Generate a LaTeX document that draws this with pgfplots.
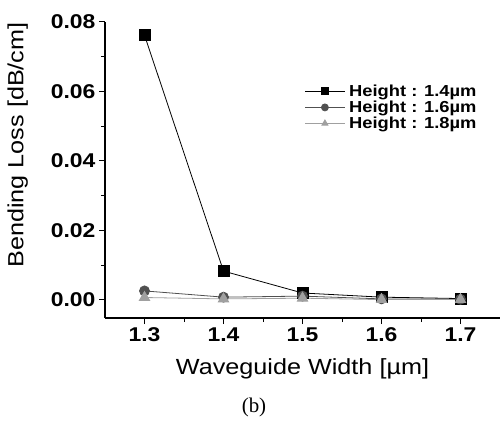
\documentclass[border=0pt]{standalone}
\usepackage{pgfplots}
\pgfplotsset{compat=1.18}
\usepackage{fontspec}
\setmainfont[FakeStretch=1.15]{Liberation Sans}
\newfontfamily\seriffont{Liberation Serif}
\definecolor{dgray}{HTML}{505050}
\definecolor{lgray}{HTML}{A0A0A0}
\begin{document}
\begin{tikzpicture}[x=1bp,y=1bp]
\path[use as bounding box] (0,0) rectangle (500,421);
\begin{axis}[
  at={(105bp,103bp)}, anchor=south west,
  scale only axis, width=395bp, height=296bp,
  xmin=1.25, xmax=1.75, ymin=-0.0052, ymax=0.08,
  axis lines*=left,
  axis line style={line width=1.2pt},
  xtick={1.3,1.4,1.5,1.6,1.7},
  minor xtick={1.35,1.45,1.55,1.65},
  ytick={0,0.02,0.04,0.06,0.08},
  minor ytick={0.01,0.03,0.05,0.07},
  tick align=outside,
  major tick length=6bp, minor tick length=4bp,
  every tick/.style={line width=1pt, black},
  /pgf/number format/assume math mode=true,
  yticklabel style={/pgf/number format/fixed,/pgf/number format/precision=2,/pgf/number format/fixed zerofill, font=\fontsize{20}{22}\selectfont\bfseries},
  xticklabel style={/pgf/number format/fixed,/pgf/number format/precision=1,/pgf/number format/fixed zerofill, font=\fontsize{20}{22}\selectfont\bfseries},
  scaled y ticks=false,
  xlabel={Waveguide Width [\textmu m]},
  ylabel={Bending Loss [dB/cm]},
  label style={font=\fontsize{22}{24}\selectfont},
  xlabel style={yshift=-10bp},
  ylabel style={yshift=16bp, xshift=25bp},
  legend style={draw=none, fill=none, at={(0.505,0.795)}, anchor=north west,
    font=\fontsize{16}{17}\selectfont\bfseries, row sep=-1bp,
    legend cell align=left, inner sep=0pt, nodes={inner xsep=4bp}},
  legend image code/.code={
    \draw[#1, mark=none] (0cm,0cm) -- (1.4cm,0cm);
    \draw[#1, only marks, mark size=3.5bp] plot coordinates {(0.7cm,0cm)};
  },
]
\addplot[black, line width=0.8pt, mark=square*, mark size=5.5bp, mark options={solid}] coordinates {
(1.3,0.0762) (1.4,0.0083) (1.5,0.0020) (1.6,0.0008) (1.7,0.0004)};
\addlegendentry{Height : 1.4\textmu m}
\addplot[dgray, line width=0.8pt, mark=*, mark size=5bp] coordinates {
(1.3,0.0026) (1.4,0.0008) (1.5,0.0011) (1.6,0.0003) (1.7,0.0002)};
\addlegendentry{Height : 1.6\textmu m}
\addplot[lgray, line width=0.8pt, mark=triangle*, mark size=6bp] coordinates {
(1.3,0.0007) (1.4,0.0003) (1.5,0.0005) (1.6,0.0001) (1.7,0.0001)};
\addlegendentry{Height : 1.8\textmu m}
\end{axis}
\node[font=\seriffont\fontsize{21}{23}\selectfont] at (254,14) {(b)};
\end{tikzpicture}
\end{document}
